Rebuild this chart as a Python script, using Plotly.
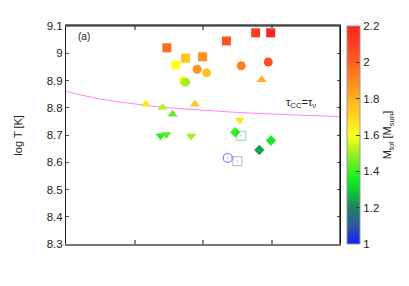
import plotly.graph_objects as go

# ---- data ----
sq_x = [1.472, 1.746, 1.994, 1.604, 2.342, 2.769, 2.988]
sq_y = [9.020, 8.982, 8.987, 8.957, 9.045, 9.075, 9.075]
sq_m = [1.97, 1.75, 1.88, 1.60, 2.05, 2.12, 2.20]

ci_x = [1.915, 2.053, 1.711, 1.746, 2.558, 2.953]
ci_y = [8.941, 8.928, 8.899, 8.894, 8.954, 8.968]
ci_m = [1.88, 1.76, 1.62, 1.50, 1.92, 2.05]

tu_x = [2.857, 1.165, 1.409, 1.556, 1.882]
tu_y = [8.903, 8.813, 8.801, 8.776, 8.813]
tu_m = [1.80, 1.67, 1.52, 1.44, 1.75]

td_x = [1.380, 1.462, 1.827, 2.539]
td_y = [8.697, 8.702, 8.696, 8.755]
td_m = [1.38, 1.43, 1.50, 1.67]

di_x = [2.471, 2.993, 2.822]
di_y = [8.710, 8.680, 8.645]
di_m = [1.40, 1.35, 1.24]

oc_x = [2.360]
oc_y = [8.616]
oc_m = [1.00]

os_x = [2.558, 2.500]
os_y = [8.697, 8.604]
os_m = [1.22, 1.10]

line_x = [0, 0.5, 1, 1.5, 2, 2.5, 3, 3.5, 4]
line_y = [8.860, 8.832, 8.814, 8.800, 8.791, 8.783, 8.777, 8.772, 8.768]

y_ticks = [8.3, 8.4, 8.5, 8.6, 8.7, 8.8, 8.9, 9.0, 9.1]
y_ticklabels = ["8.3", "8.4", "8.5", "8.6", "8.7", "8.8", "8.9", "9", "9.1"]
cb_ticks = [1, 1.2, 1.4, 1.6, 1.8, 2.0, 2.2]
cb_ticklabels = ["1", "1.2", "1.4", "1.6", "1.8", "2", "2.2"]

colorscale = [
    [0.0, "#1a1aff"],
    [0.0833, "#2a5aa0"],
    [0.1667, "#1f8060"],
    [0.25, "#10d030"],
    [0.3, "#10f020"],
    [0.4167, "#a0f020"],
    [0.5, "#ffff20"],
    [0.6667, "#ffb020"],
    [0.8333, "#ff6020"],
    [1.0, "#ff2020"],
]

FONT = "Liberation Sans, Arial, sans-serif"
fig = go.Figure()

fig.add_trace(go.Scatter(x=line_x, y=line_y, mode="lines",
                         line=dict(color="#ff80ff", width=1, shape="spline"),
                         hoverinfo="skip", showlegend=False))


def add_markers(xs, ys, ms, symbol, size, opacity=1.0):
    fig.add_trace(go.Scatter(
        x=xs, y=ys, mode="markers", showlegend=False, opacity=opacity,
        marker=dict(symbol=symbol, size=size, color=ms, coloraxis="coloraxis",
                    line=dict(width=1.3 if "open" in symbol else 0))))


add_markers(sq_x, sq_y, sq_m, "square", 9)
add_markers(ci_x, ci_y, ci_m, "circle", 9)
add_markers(tu_x, tu_y, tu_m, "triangle-up", 9)
add_markers(td_x, td_y, td_m, "triangle-down", 9)
add_markers(di_x, di_y, di_m, "diamond", 8)
add_markers(oc_x, oc_y, oc_m, "circle-open", 9, 0.5)
add_markers(os_x, os_y, os_m, "square-open", 9, 0.35)

fig.update_layout(
    width=409, height=286,
    margin=dict(l=58.3, r=77, t=14.7, b=50.3),
    paper_bgcolor="white", plot_bgcolor="white",
    font=dict(family=FONT, size=11, color="#222"),
    xaxis=dict(range=[0, 4], tickvals=[1, 2, 3], showticklabels=False,
               ticks="inside", ticklen=4, tickcolor="#888", tickwidth=1.5,
               showgrid=False, zeroline=False, showline=True, linecolor="#777",
               linewidth=1.5, mirror="ticks"),
    yaxis=dict(range=[8.3, 9.1], tickvals=y_ticks, ticktext=y_ticklabels,
               ticks="inside", ticklen=3, tickcolor="#555", tickwidth=1,
               showgrid=False, zeroline=False, showline=True, linecolor="#222",
               linewidth=1, mirror="ticks", tickfont=dict(size=11.5)),
    coloraxis=dict(
        cmin=1, cmax=2.2, colorscale=colorscale,
        colorbar=dict(
            x=1.0267, xanchor="left", xpad=0, y=0.5, yanchor="middle", ypad=0,
            len=1, lenmode="fraction", thickness=13.4,
            outlinecolor="#999", outlinewidth=1,
            tickvals=cb_ticks, ticktext=cb_ticklabels,
            ticks="inside", ticklen=4, tickcolor="#333",
            tickfont=dict(size=11.5, color="#222"),
            title=dict(text="M<sub>tot</sub> [M<sub>sun</sub>]", side="right",
                       font=dict(size=11)),
        ),
    ),
)

fig.add_shape(type="line", xref="paper", yref="paper", x0=0, x1=1, y0=1, y1=1,
              line=dict(color="#111", width=1.2))
fig.add_shape(type="line", xref="paper", yref="paper", x0=1, x1=1, y0=0, y1=1,
              line=dict(color="#111", width=1.2))

# small centre dots of open markers
fig.add_trace(go.Scatter(x=oc_x + os_x, y=oc_y + os_y, mode="markers",
                         marker=dict(symbol="circle", size=1.5, color="#aab"),
                         showlegend=False, hoverinfo="skip"))

fig.add_annotation(x=-0.1765, y=0.5, xref="paper", yref="paper", text="log T [K]",
                   textangle=-90, showarrow=False, font=dict(size=11, color="#222"),
                   xanchor="center", yanchor="middle")
fig.add_annotation(x=0.065, y=0.95, xref="paper", yref="paper", text="(a)",
                   showarrow=False, font=dict(size=10, color="#222"),
                   xanchor="center", yanchor="middle")
fig.add_annotation(x=0.797, y=0.648, xref="paper", yref="paper",
                   text="τ<sub>CC</sub>=τ<sub>ν</sub>",
                   showarrow=False, font=dict(size=11, color="#222"),
                   xanchor="left", yanchor="middle")

fig.write_html("out.html")
